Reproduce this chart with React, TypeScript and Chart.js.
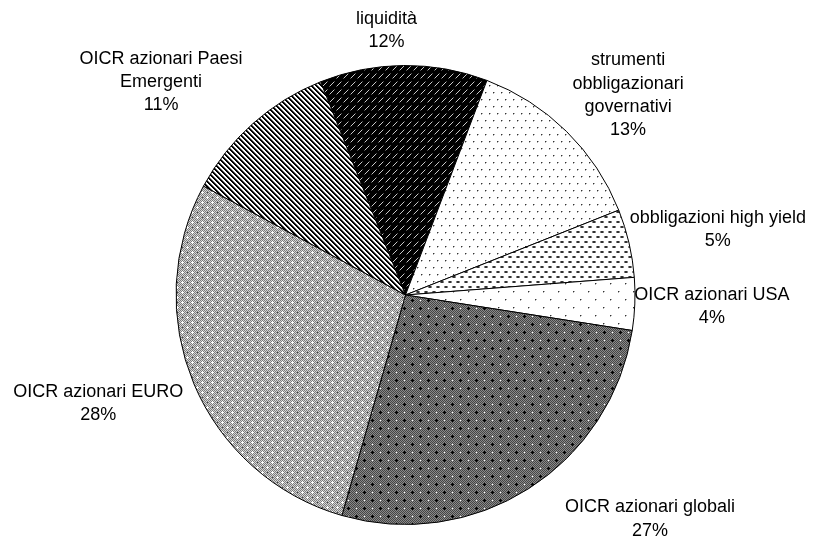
import React, { useEffect, useRef } from "react";
import { Chart, registerables } from "chart.js";

Chart.register(...registerables);

// ---- data ----
const categories: string[][] = [
  ["liquidità"],
  ["strumenti", "obbligazionari", "governativi"],
  ["obbligazioni high yield"],
  ["OICR azionari USA"],
  ["OICR azionari globali"],
  ["OICR azionari EURO"],
  ["OICR azionari Paesi", "Emergenti"],
];
const shares: number[] = [11.8, 13.2, 4.8, 3.7, 27.0, 28.4, 11.1];
const percentLabels: string[] = ["12%", "13%", "5%", "4%", "27%", "28%", "11%"];

type PixelFn = (x: number, y: number) => string | null;

function makePattern(ctx: CanvasRenderingContext2D, w: number, h: number, base: string, fn: PixelFn) {
  const c = document.createElement("canvas");
  c.width = w;
  c.height = h;
  const g = c.getContext("2d")!;
  g.fillStyle = base;
  g.fillRect(0, 0, w, h);
  for (let y = 0; y < h; y++) {
    for (let x = 0; x < w; x++) {
      const col = fn(x, y);
      if (col) {
        g.fillStyle = col;
        g.fillRect(x, y, 1, 1);
      }
    }
  }
  return ctx.createPattern(c, "repeat")!;
}

function buildPatterns(ctx: CanvasRenderingContext2D) {
  const plusAt = (x: number, y: number, cx: number, cy: number) =>
    (x === cx && Math.abs(y - cy) <= 1) || (y === cy && Math.abs(x - cx) <= 1);

  // liquidità: black with light diagonal dashes
  const liq = makePattern(ctx, 7, 8, "#000", (x, y) => {
    const pts = [[1, 5], [2, 4], [3, 3], [4, 2]];
    for (const [px, py] of pts) if (px === x && py === y) return "#c8c8c8";
    if ((x === 0 && y === 6) || (x === 5 && y === 1)) return "#555";
    return null;
  });
  // strumenti: white with small staggered dots
  const gov = makePattern(ctx, 8, 14, "#fff", (x, y) => {
    if (x === 1 && y === 1) return "#333";
    if (x === 5 && y === 8) return "#333";
    if ((x === 2 && y === 1) || (x === 1 && y === 2) || (x === 6 && y === 8) || (x === 5 && y === 9)) return "#aaa";
    return null;
  });
  // high yield: white with staggered horizontal dashes
  const hy = makePattern(ctx, 8, 10, "#fff", (x, y) => {
    if ((y === 1 || y === 2) && x >= 0 && x <= 3) return x === 0 || x === 3 ? "#888" : "#333";
    if ((y === 6 || y === 7) && x >= 4 && x <= 7) return x === 4 || x === 7 ? "#888" : "#333";
    return null;
  });
  // USA: sparse dots
  const usa = makePattern(ctx, 15, 16, "#fff", (x, y) => {
    if (x === 3 && y === 3) return "#333";
    if (x === 10 && y === 11) return "#333";
    if ((x === 4 && y === 3) || (x === 3 && y === 4) || (x === 11 && y === 11) || (x === 10 && y === 12)) return "#aaa";
    return null;
  });
  // globali: dark checker with black pluses
  const glob = makePattern(ctx, 16, 16, "#666", (x, y) => {
    if (plusAt(x, y, 4, 4) || plusAt(x, y, 12, 12)) return "#000";
    if (plusAt(x, y, 12, 4) || plusAt(x, y, 4, 12)) return (x + y) % 2 === 0 ? "#fff" : "#999";
    return (x + y) % 2 === 0 ? "#454545" : "#8a8a8a";
  });
  // EURO: lighter checker with white pluses
  const euro = makePattern(ctx, 10, 10, "#aaa", (x, y) => {
    if (plusAt(x, y, 2, 2) || plusAt(x, y, 7, 7)) return "#fff";
    if ((x === 7 && y === 2) || (x === 2 && y === 7)) return "#444";
    return (x + y) % 2 === 0 ? "#7c7c7c" : "#d6d6d6";
  });
  // Emergenti: diagonal stripes
  const emer = makePattern(ctx, 5, 5, "#fff", (x, y) => {
    const k = (((x - y) % 5) + 5) % 5;
    if (k === 0 || k === 1) return "#000";
    if (k === 2) return "#777";
    return null;
  });
  return [liq, gov, hy, usa, glob, euro, emer];
}

// label block centres, in units of the pie radius, relative to the pie centre
const labelOffsets: [number, number][] = [
  [-0.083, -1.152],
  [0.97, -0.87],
  [1.361, -0.285],
  [1.335, 0.05],
  [1.065, 0.976],
  [-1.339, 0.472],
  [-1.065, -0.928],
];

const labelPlugin = {
  id: "outerLabels",
  afterDraw(chart: any) {
    const meta = chart.getDatasetMeta(0);
    const arc = meta.data[0];
    if (!arc) return;
    const cx = arc.x;
    const cy = arc.y;
    const R = arc.outerRadius;
    const ctx = chart.ctx as CanvasRenderingContext2D;
    ctx.save();
    ctx.font = '18px "Liberation Sans", Arial, sans-serif';
    ctx.fillStyle = "#000";
    ctx.textAlign = "center";
    ctx.textBaseline = "middle";
    const lh = 23.3;
    categories.forEach((lines, i) => {
      const all = [...lines, percentLabels[i]];
      const [ox, oy] = labelOffsets[i];
      const bx = cx + ox * R;
      const by = cy + oy * R;
      const n = all.length;
      all.forEach((t, j) => {
        ctx.fillText(t, bx, by + (j - (n - 1) / 2) * lh);
      });
    });
    ctx.restore();
  },
};

export default function App() {
  const ref = useRef<HTMLCanvasElement | null>(null);
  useEffect(() => {
    const canvas = ref.current!;
    const ctx = canvas.getContext("2d")!;
    const patterns = buildPatterns(ctx);
    const chart = new Chart(canvas, {
      type: "pie",
      data: {
        labels: categories.map((l) => l.join(" ")),
        datasets: [
          {
            data: shares,
            backgroundColor: patterns as any,
            borderColor: "#000",
            borderWidth: 1,
          },
        ],
      },
      options: {
        responsive: false,
        animation: false,
        rotation: -21.7,
        layout: { padding: { left: 175, right: 188, top: 65, bottom: 15 } },
        plugins: {
          legend: { display: false },
          tooltip: { enabled: false },
        },
        elements: { arc: { borderAlign: "center" } },
      },
      plugins: [labelPlugin],
    });
    return () => chart.destroy();
  }, []);
  return (
    <div style={{ position: "absolute", left: 0, top: 0, width: 824, height: 540, background: "#fff" }}>
      <canvas ref={ref} width={824} height={540} style={{ display: "block", width: 824, height: 540 }} />
    </div>
  );
}
